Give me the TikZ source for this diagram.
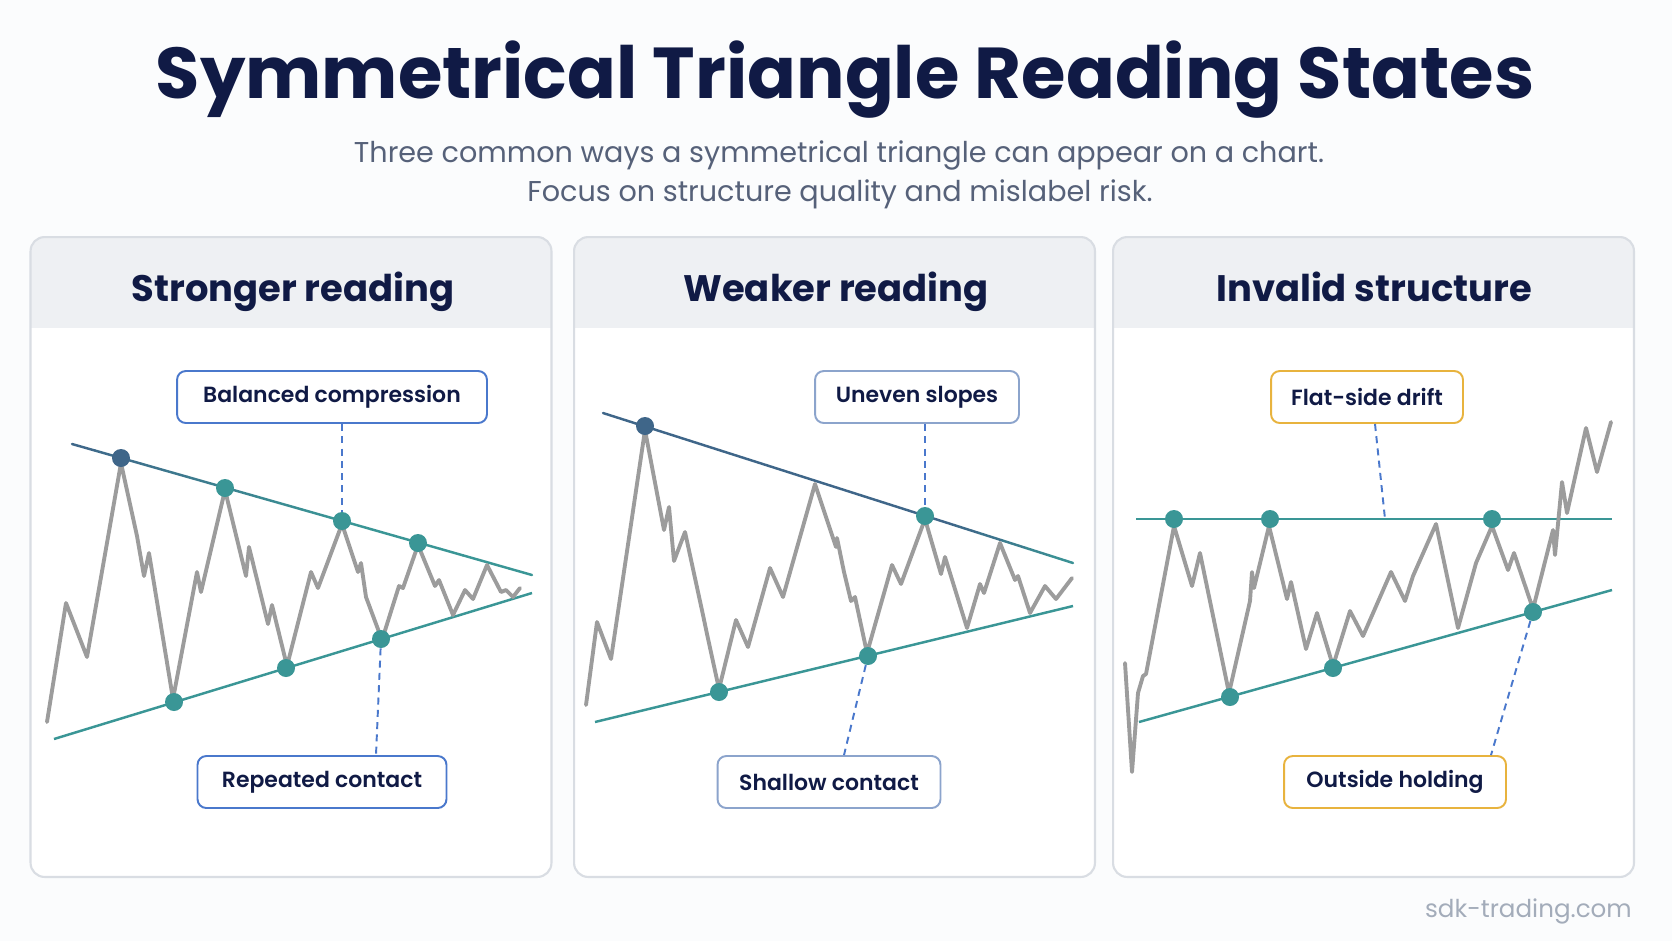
\documentclass[tikz,border=0pt]{standalone}
\usepackage{fontspec}
\setmainfont{Poppins}
\newfontfamily\semifont{Poppins SemiBold}
\usetikzlibrary{calc}
\definecolor{Ink}{HTML}{101A45}
\definecolor{Slate}{HTML}{566179}
\definecolor{Rim}{HTML}{D9DDE3}
\definecolor{Band}{HTML}{EEF0F3}
\definecolor{Paper}{HTML}{FBFCFD}
\definecolor{Tealine}{HTML}{3A9696}
\definecolor{Steel}{HTML}{3F6689}
\definecolor{Price}{HTML}{9C9C9C}
\definecolor{Cue}{HTML}{4A78CC}
\definecolor{CueSoft}{HTML}{8CA4CC}
\definecolor{Gold}{HTML}{E8B33E}
\definecolor{Mark}{HTML}{A3ACBA}
\tikzset{
  panel/.style={draw=Rim, line width=1.2pt, rounded corners=8pt, fill=white,
    minimum width=10.42cm, minimum height=12.8cm, inner sep=0pt,
    path picture={\fill[Band, sharp corners] (path picture bounding box.north west)
      rectangle ([yshift=-1.82cm]path picture bounding box.north east);}},
  heading/.style={font=\bfseries\fontsize{21}{25}\selectfont, text=Ink, anchor=base},
  tag/.style={draw=#1, line width=1.1pt, rounded corners=5pt, fill=white,
    minimum height=1.04cm, inner sep=0pt, font=\semifont\fontsize{12.5}{15}\selectfont, text=Ink},
  tag/.default={Cue},
  dot/.style={circle, fill=#1, minimum size=0.36cm, inner sep=0pt},
  dot/.default={Tealine},
  trend/.style={line width=1.4pt, color=Tealine},
  price/.style={line width=2.2pt, color=Price, line join=round, line cap=round},
  callout/.style={line width=1.1pt, color=Cue, dash pattern=on 4pt off 3pt},
}
% trend line that fades from Steel into Tealine
\newcommand\fadeline[4]{%
  \foreach \k in {0,...,19}{
    \pgfmathsetmacro\mixv{max(0,min(100,#3+(#4-#3)*(\k+0.5)/20))}
    \draw[line width=1.4pt, color=Tealine!\mixv!Steel, line cap=round]
      ($(#1)!\k/20!(#2)$) -- ($(#1)!\k/20+0.05!(#2)$);
  }}

\begin{document}
\begin{tikzpicture}[x=0.02cm, y=-0.02cm]
  \useasboundingbox (0,0) rectangle (1672,941);
  \fill[Paper] (0,0) rectangle (1672,941);

  % titles
  \node[anchor=base, font=\bfseries\fontsize{41}{47}\selectfont, text=Ink]
    (title) at (845,98) {Symmetrical Triangle Reading States};
  \node[anchor=base, font=\fontsize{16.3}{20}\selectfont, text=Slate]
    (sub1) at (839,162) {Three common ways a symmetrical triangle can appear on a chart.};
  \node[anchor=base, font=\fontsize{16.3}{20}\selectfont, text=Slate]
    (sub2) at (840,201) {Focus on structure quality and mislabel risk.};

  % panels
  \node[panel] (pan1) at (291,557) {};
  \node[panel] (pan2) at (834.5,557) {};
  \node[panel] (pan3) at (1373.5,557) {};
  \node[heading] (h1) at (293,301) {Stronger reading};
  \node[heading] (h2) at (836,301) {Weaker reading};
  \node[heading] (h3) at (1374,301) {Invalid structure};

  % panel 1: stronger reading
  \coordinate (ua1) at (72,444);   \coordinate (ub1) at (532,575);
  \coordinate (la1) at (54,739);   \coordinate (lb1) at (532,593);
  \fadeline{ua1}{ub1}{0}{170}
  \draw[trend] (la1) -- (lb1);
  \draw[price] plot coordinates {(47,722) (66,603) (87,657) (121,463) (137,536) (144,576)
    (149,553) (173,699) (197,572) (201,592) (225,490) (246,576) (249,547) (268,624)
    (272,605) (287,666) (311,572) (318,588) (342,524) (358,572) (361,563) (366,597)
    (382,640) (399,586) (403,588) (418,545) (435,586) (439,580) (453,615) (465,590)
    (473,599) (487,565) (501,592) (506,590) (513,597) (520,588)};
  \node[dot=Steel] (u11) at (121,458) {};
  \node[dot] (u12) at (225,488) {};
  \node[dot] (u13) at (342,521) {};
  \node[dot] (u14) at (418,543) {};
  \node[dot] (l11) at (174,702) {};
  \node[dot] (l12) at (286,668) {};
  \node[dot] (l13) at (381,639) {};
  \node[tag, minimum width=6.2cm] (bal) at (332,397) {Balanced compression};
  \node[tag, minimum width=4.98cm] (rep) at (322,782) {Repeated contact};
  \draw[callout] (bal.south -| u13) -- (u13);
  \draw[callout] (l13) -- ([xshift=1.08cm]rep.north);

  % panel 2: weaker reading
  \coordinate (ua2) at (603,413);  \coordinate (ub2) at (1073,563);
  \coordinate (la2) at (595,722);  \coordinate (lb2) at (1073,606);
  \fadeline{ua2}{ub2}{-300}{100}
  \draw[trend] (la2) -- (lb2);
  \draw[price] plot coordinates {(586,705) (597,622) (611,659) (645,430) (664,530) (669,507)
    (674,561) (685,532) (703,615) (707,634) (719,689) (736,620) (748,647) (770,568)
    (783,597) (815,484) (836,547) (837,538) (844,572) (851,601) (855,597) (867,653)
    (892,565) (901,584) (925,519) (941,574) (945,557) (967,628) (980,584) (984,593)
    (1000,543) (1015,580) (1018,576) (1030,613) (1045,586) (1056,599) (1072,578)};
  \node[dot=Steel] (u21) at (645,426) {};
  \node[dot] (u22) at (925,516) {};
  \node[dot] (l21) at (719,692) {};
  \node[dot] (l22) at (868,656) {};
  \node[tag=CueSoft, minimum width=4.08cm] (une) at (917,397) {Uneven slopes};
  \node[tag=CueSoft, minimum width=4.46cm] (sha) at (829,782) {Shallow contact};
  \draw[callout] (une.south -| u22) -- (u22);
  \draw[callout] (l22) -- ([xshift=0.3cm]sha.north);

  % panel 3: invalid structure
  \coordinate (ua3) at (1136,519); \coordinate (ub3) at (1612,519);
  \coordinate (la3) at (1139,722); \coordinate (lb3) at (1612,590);
  \coordinate (drift) at (1385,519);
  \draw[trend] (ua3) -- (ub3);
  \draw[trend] (la3) -- (lb3);
  \draw[price] plot coordinates {(1125,663) (1132,772) (1138,693) (1143,676) (1146,674)
    (1174,526) (1192,586) (1200,553) (1229,693) (1250,601) (1252,572) (1254,588)
    (1269,526) (1287,599) (1291,582) (1306,649) (1317,613) (1333,666) (1350,611)
    (1363,636) (1391,572) (1405,601) (1413,576) (1436,524) (1458,628) (1476,563)
    (1492,526) (1508,570) (1514,553) (1533,609) (1553,530) (1555,555) (1562,482)
    (1567,513) (1586,428) (1597,472) (1611,422)};
  \node[dot] (u31) at (1174,519) {};
  \node[dot] (u32) at (1270,519) {};
  \node[dot] (u33) at (1492,519) {};
  \node[dot] (l31) at (1230,697) {};
  \node[dot] (l32) at (1333,668) {};
  \node[dot] (l33) at (1533,612) {};
  \node[tag=Gold, minimum width=3.84cm] (fla) at (1367,397) {Flat-side drift};
  \node[tag=Gold, minimum width=4.44cm] (out) at (1395,782) {Outside holding};
  \draw[callout] ([xshift=0.16cm]fla.south) -- (drift);
  \draw[callout] (l33) -- ([xshift=1.92cm]out.north);

  % footer
  \node[anchor=base east, font=\fontsize{14}{16}\selectfont, text=Mark]
    (site) at (1638,917) {sdk-trading.com};
\end{tikzpicture}
\end{document}
